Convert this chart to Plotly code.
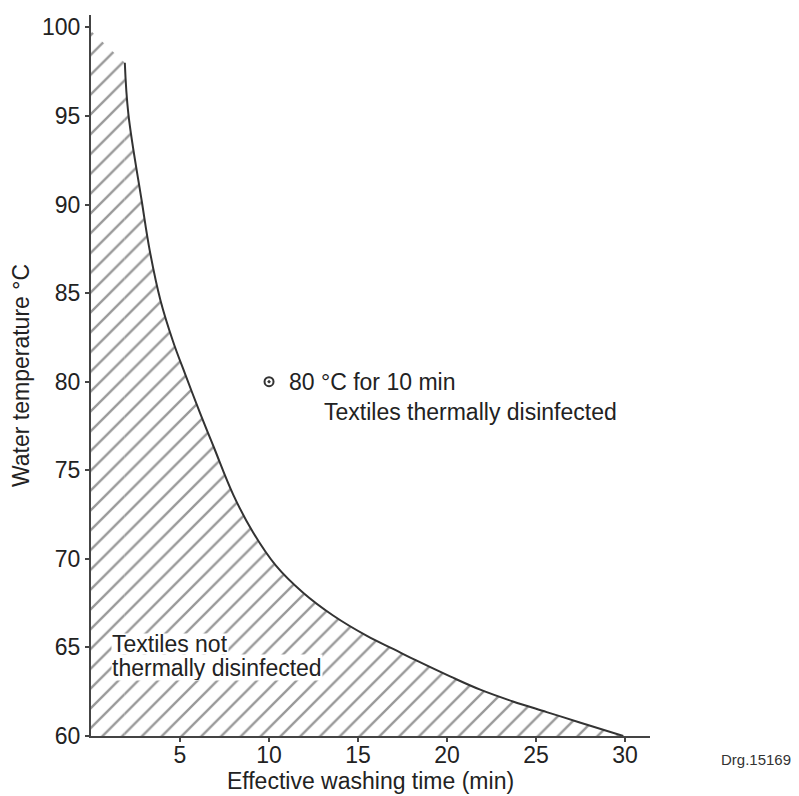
import plotly.graph_objects as go

# Boundary curve: minimum effective washing time (min) vs water temperature (°C)
time_min = [1.9, 2.1, 2.85, 3.3, 3.9, 4.6, 5.3, 6.1, 6.9, 8.0, 9.1, 10.4, 11.9,
            13.6, 15.5, 17.0, 18.3, 20.2, 21.9, 23.7, 25.6, 27.5, 29.9]
temp_c = [98.0, 95.1, 90.2, 87.4, 84.6, 82.3, 80.4, 78.3, 76.3, 73.6, 71.5, 69.6, 68.1,
          66.8, 65.65, 64.9, 64.25, 63.35, 62.6, 61.95, 61.35, 60.75, 60.0]

# Hatched strip between the temperature axis and the start of the curve
strip_x = [0.0, 1.9]
strip_y = [99.8, 98.0]

point_x = [10]
point_y = [80]
point_label = "80 °C for 10 min"

x_ticks = [5, 10, 15, 20, 25, 30]
y_ticks = [60, 65, 70, 75, 80, 85, 90, 95, 100]

FONT = "Liberation Sans, Arial, sans-serif"
TXT = "#222222"
FS = 23
HATCH = dict(shape="/", size=14, solidity=0.17, fgcolor="#333333", bgcolor="white")

fig = go.Figure()

fig.add_trace(go.Scatter(
    x=strip_x, y=strip_y, mode="lines", fill="tozeroy",
    fillcolor="rgba(0,0,0,0)", fillpattern=HATCH,
    line=dict(width=0, color="rgba(0,0,0,0)"), hoverinfo="skip", showlegend=False,
))
fig.add_trace(go.Scatter(
    x=time_min, y=temp_c, mode="lines", fill="tozeroy",
    fillcolor="rgba(0,0,0,0)", fillpattern=HATCH,
    line=dict(width=0, color="rgba(0,0,0,0)", shape="spline", smoothing=1.1),
    hoverinfo="skip", showlegend=False,
))

fig.add_trace(go.Scatter(
    x=time_min, y=temp_c, mode="lines",
    line=dict(color="#333333", width=2, shape="spline", smoothing=1.1), showlegend=False,
))

fig.add_trace(go.Scatter(
    x=point_x, y=point_y, mode="markers",
    marker=dict(symbol="circle-open-dot", size=9, color="#333333", line=dict(width=2, color="#333333")),
    showlegend=False,
))

annotations = [
    dict(x=point_x[0], y=point_y[0], text=point_label, xanchor="left", yanchor="middle",
         xshift=18, showarrow=False, font=dict(size=FS, color=TXT, family=FONT)),
    dict(x=13.0, y=78.3, text="Textiles thermally disinfected", xanchor="left", yanchor="middle",
         showarrow=False, font=dict(size=FS, color=TXT, family=FONT)),
    dict(x=1.1, y=63.85, text="thermally disinfected", xanchor="left", yanchor="middle", height=25,
         showarrow=False, bgcolor="white", borderpad=0, font=dict(size=FS, color=TXT, family=FONT)),
    dict(x=1.1, y=65.2, text="Textiles not", xanchor="left", yanchor="middle", height=20,
         showarrow=False, bgcolor="white", borderpad=0, font=dict(size=FS, color=TXT, family=FONT)),
    dict(x=1.255, y=-0.033, xref="paper", yref="paper", text="Drg.15169", xanchor="right",
         yanchor="middle", showarrow=False, font=dict(size=15, color="#333333", family=FONT)),
]

fig.update_layout(
    width=791, height=788,
    margin=dict(l=83, r=149, t=7, b=60),
    paper_bgcolor="white", plot_bgcolor="white",
    font=dict(family=FONT, size=FS, color=TXT),
    annotations=annotations,
    showlegend=False,
)

fig.update_xaxes(
    range=[0, 31.4], tickvals=x_ticks, ticktext=[str(v) for v in x_ticks],
    showgrid=False, zeroline=False, showline=True, linecolor="#444444", linewidth=2,
    ticks="outside", ticklen=4, tickwidth=1.5, tickcolor="#444444", automargin=False,
    ticklabelstandoff=-7,
    tickfont=dict(size=FS, color=TXT, family=FONT),
    title=dict(text="Effective washing time (min)", standoff=2, font=dict(size=FS, color=TXT, family=FONT)),
)
fig.update_yaxes(
    range=[60, 100.7], tickvals=y_ticks, ticktext=[str(v) for v in y_ticks],
    showgrid=False, zeroline=False, showline=True, linecolor="#444444", linewidth=2,
    ticks="outside", ticklen=4, tickwidth=1.5, tickcolor="#444444", automargin=False,
    tickfont=dict(size=FS, color=TXT, family=FONT),
    title=dict(text="Water temperature °C", standoff=6, font=dict(size=FS, color=TXT, family=FONT)),
)

fig.write_html("out.html")
